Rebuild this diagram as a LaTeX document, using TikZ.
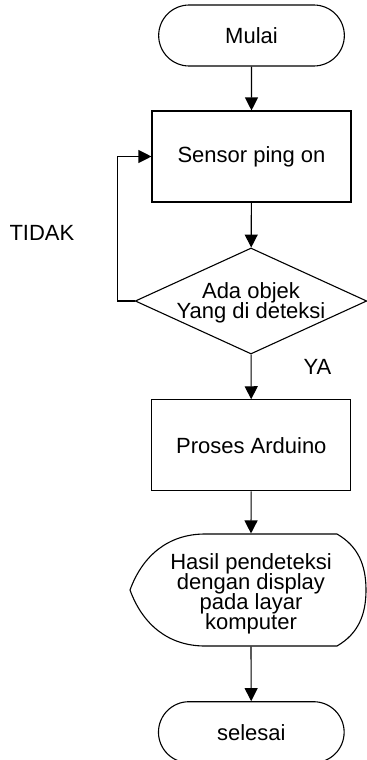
\documentclass[tikz,border=0pt]{standalone}
\usepackage{fontspec}
\setmainfont{Liberation Sans}
\usetikzlibrary{arrows.meta}
\usetikzlibrary{shapes.geometric}
\usetikzlibrary{shapes.misc}
\newcommand{\teksfont}{\fontsize{11}{10}\selectfont\lineskiplimit=-20pt\relax}
\tikzset{flow/.style = {-{Triangle[length = 6.5pt, width = 6.5pt]}}}
\tikzset{terminal/.style = {draw, rounded rectangle, minimum width = 99.5pt, minimum height = 30.5pt}}
\tikzset{process/.style = {draw, rectangle, minimum width = 99.5pt, minimum height = 45.5pt}}
\tikzset{decision/.style = {draw, diamond, inner sep = 0, minimum width = 115.8pt, minimum height = 53pt}}
\tikzset{teks/.style = {align = center, inner sep = 0, font = {\teksfont}}}

\begin{document}
\begin{tikzpicture}[x = 0.5pt, y = -0.5pt, line width = 0.55pt, font = \fontsize{11}{10}\selectfont]
      \useasboundingbox (0, 0) rectangle (367, 760);

      \node [terminal] (mulai) at (251.5, 35.5) {Mulai};
      \node [process] (sensor) at (251.5, 156.5) {Sensor ping on};
      \node [decision] (cek) at (251, 301) {};
      \node [teks] (tanya) at (251, 303) {Ada objek\\Yang di deteksi};
      \node [process] (proses) at (251.3, 445.3) {Proses Arduino};
      \node [minimum width = 99.5pt, minimum height = 56pt, inner sep = 0] (hasil) at (251, 590) {};
      \node [teks] (isi) at (251, 594) {Hasil pendeteksi\\dengan display\\pada layar\\komputer};
      \node [terminal] (selesai) at (251.3, 732.2) {selesai};

      % tampilan
      \draw (205, 534) -- (337, 534)
            to [out = -30, in = 90] (366, 590)
            to [out = -90, in = 30] (337, 646)
            -- (205, 646)
            to [out = 180, in = -70] (130, 590)
            to [out = 70, in = 180] (205, 534);

      \coordinate (balik) at (117.7, 301);

      \draw [flow] (mulai) -- (sensor);
      \draw [flow] (sensor) -- (cek);
      \draw [flow] (cek) -- (proses);
      \draw [flow] (proses) -- (hasil.north);
      \draw [flow] (hasil.south) -- (selesai);
      \draw [flow] (cek.west) -- (balik) |- (sensor.west);

      \node [anchor = base west, inner sep = 0] (tidak) at (9, 240) {TIDAK};
      \node [anchor = base west, inner sep = 0] (ya) at (303, 374) {YA};
    \end{tikzpicture}
\end{document}
